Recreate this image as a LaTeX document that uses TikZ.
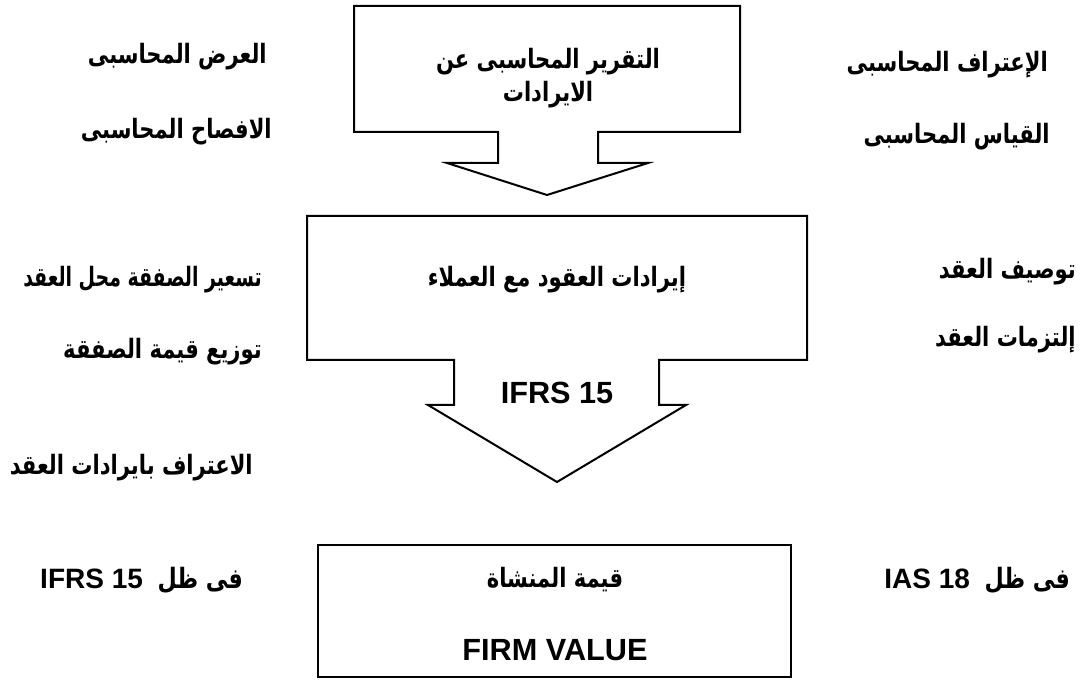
\documentclass[tikz,border=0pt]{standalone}
\usepackage{graphicx}
\usepackage{fontspec}
\setmainfont{Liberation Sans}
\newfontfamily\arabicfont[Script=Arabic]{DejaVu Sans}
\TeXXeTstate=1
\usetikzlibrary{positioning}
\newcommand\artxt[2][0.79]{\scalebox{#1}[1]{\arabicfont\bfseries\beginR #2\endR}}
\tikzset{
  frame/.style ={draw,line width=1.5pt,line join=miter},
  lbl/.style   ={inner sep=0pt,font=\fontsize{20}{24}\selectfont},
  ltn/.style   ={inner sep=0pt,font=\fontsize{23}{27}\selectfont\bfseries},
  mix/.style   ={inner sep=0pt,font=\fontsize{21}{25}\selectfont\bfseries},
}

\begin{document}
\begin{tikzpicture}[x=0.75pt,y=-0.75pt]
  \useasboundingbox (0,0) rectangle (1082,680);
  % arrow boxes
  \draw[frame] (354,6) -- (740,6) -- (740,132) -- (598,132) -- (598,163)
    -- (648,163) -- (547,195) -- (447,163) -- (498,163) -- (498,132)
    -- (354,132) -- cycle;
  \draw[frame] (307,216) -- (807,216) -- (807,360) -- (659,360) -- (659,405)
    -- (686,405) -- (557,482) -- (428,405) -- (454,405) -- (454,360)
    -- (307,360) -- cycle;
  \draw[frame] (318,545) rectangle (791,677);
  % centre texts
  \node[lbl] (report1) at (548,62) {\artxt{التقرير المحاسبى عن}};
  \node[lbl] (report2) at (548,95) {\artxt{الايرادات}};
  \node[lbl] (revenue) at (557,280) {\artxt{إيرادات العقود مع العملاء}};
  \node[ltn] (ifrs) at (557,393) {IFRS 15};
  \node[lbl] (value) at (555,580) {\artxt{قيمة المنشاة}};
  \node[ltn] (firm) at (555,650) {FIRM VALUE};
  % left side
  \node[lbl,anchor=east] (display) at (267,57) {\artxt{العرض المحاسبى}};
  \node[lbl,anchor=east] (disclose) at (272,132) {\artxt{الافصاح المحاسبى}};
  \node[lbl,anchor=east] (pricing) at (262,280) {\artxt[0.71]{تسعير الصفقة محل العقد}};
  \node[lbl,anchor=east] (allocate) at (262,352) {\artxt{توزيع قيمة الصفقة}};
  \node[lbl,anchor=east] (recognise) at (253,468) {\artxt{الاعتراف بايرادات العقد}};
  \node[mix,anchor=east] (underifrs) at (243,580) {IFRS 15\hspace{11pt}\artxt{فى ظل}};
  % right side
  \node[lbl,anchor=east] (recog) at (1048,65) {\artxt{الإعتراف المحاسبى}};
  \node[lbl,anchor=east] (measure) at (1050,137) {\artxt{القياس المحاسبى}};
  \node[lbl,anchor=east] (describe) at (1076,272) {\artxt{توصيف العقد}};
  \node[lbl,anchor=east] (oblig) at (1076,340) {\artxt{إلتزمات العقد}};
  \node[mix,anchor=east] (underias) at (1070,580) {IAS 18\hspace{11pt}\artxt{فى ظل}};
\end{tikzpicture}
\end{document}
